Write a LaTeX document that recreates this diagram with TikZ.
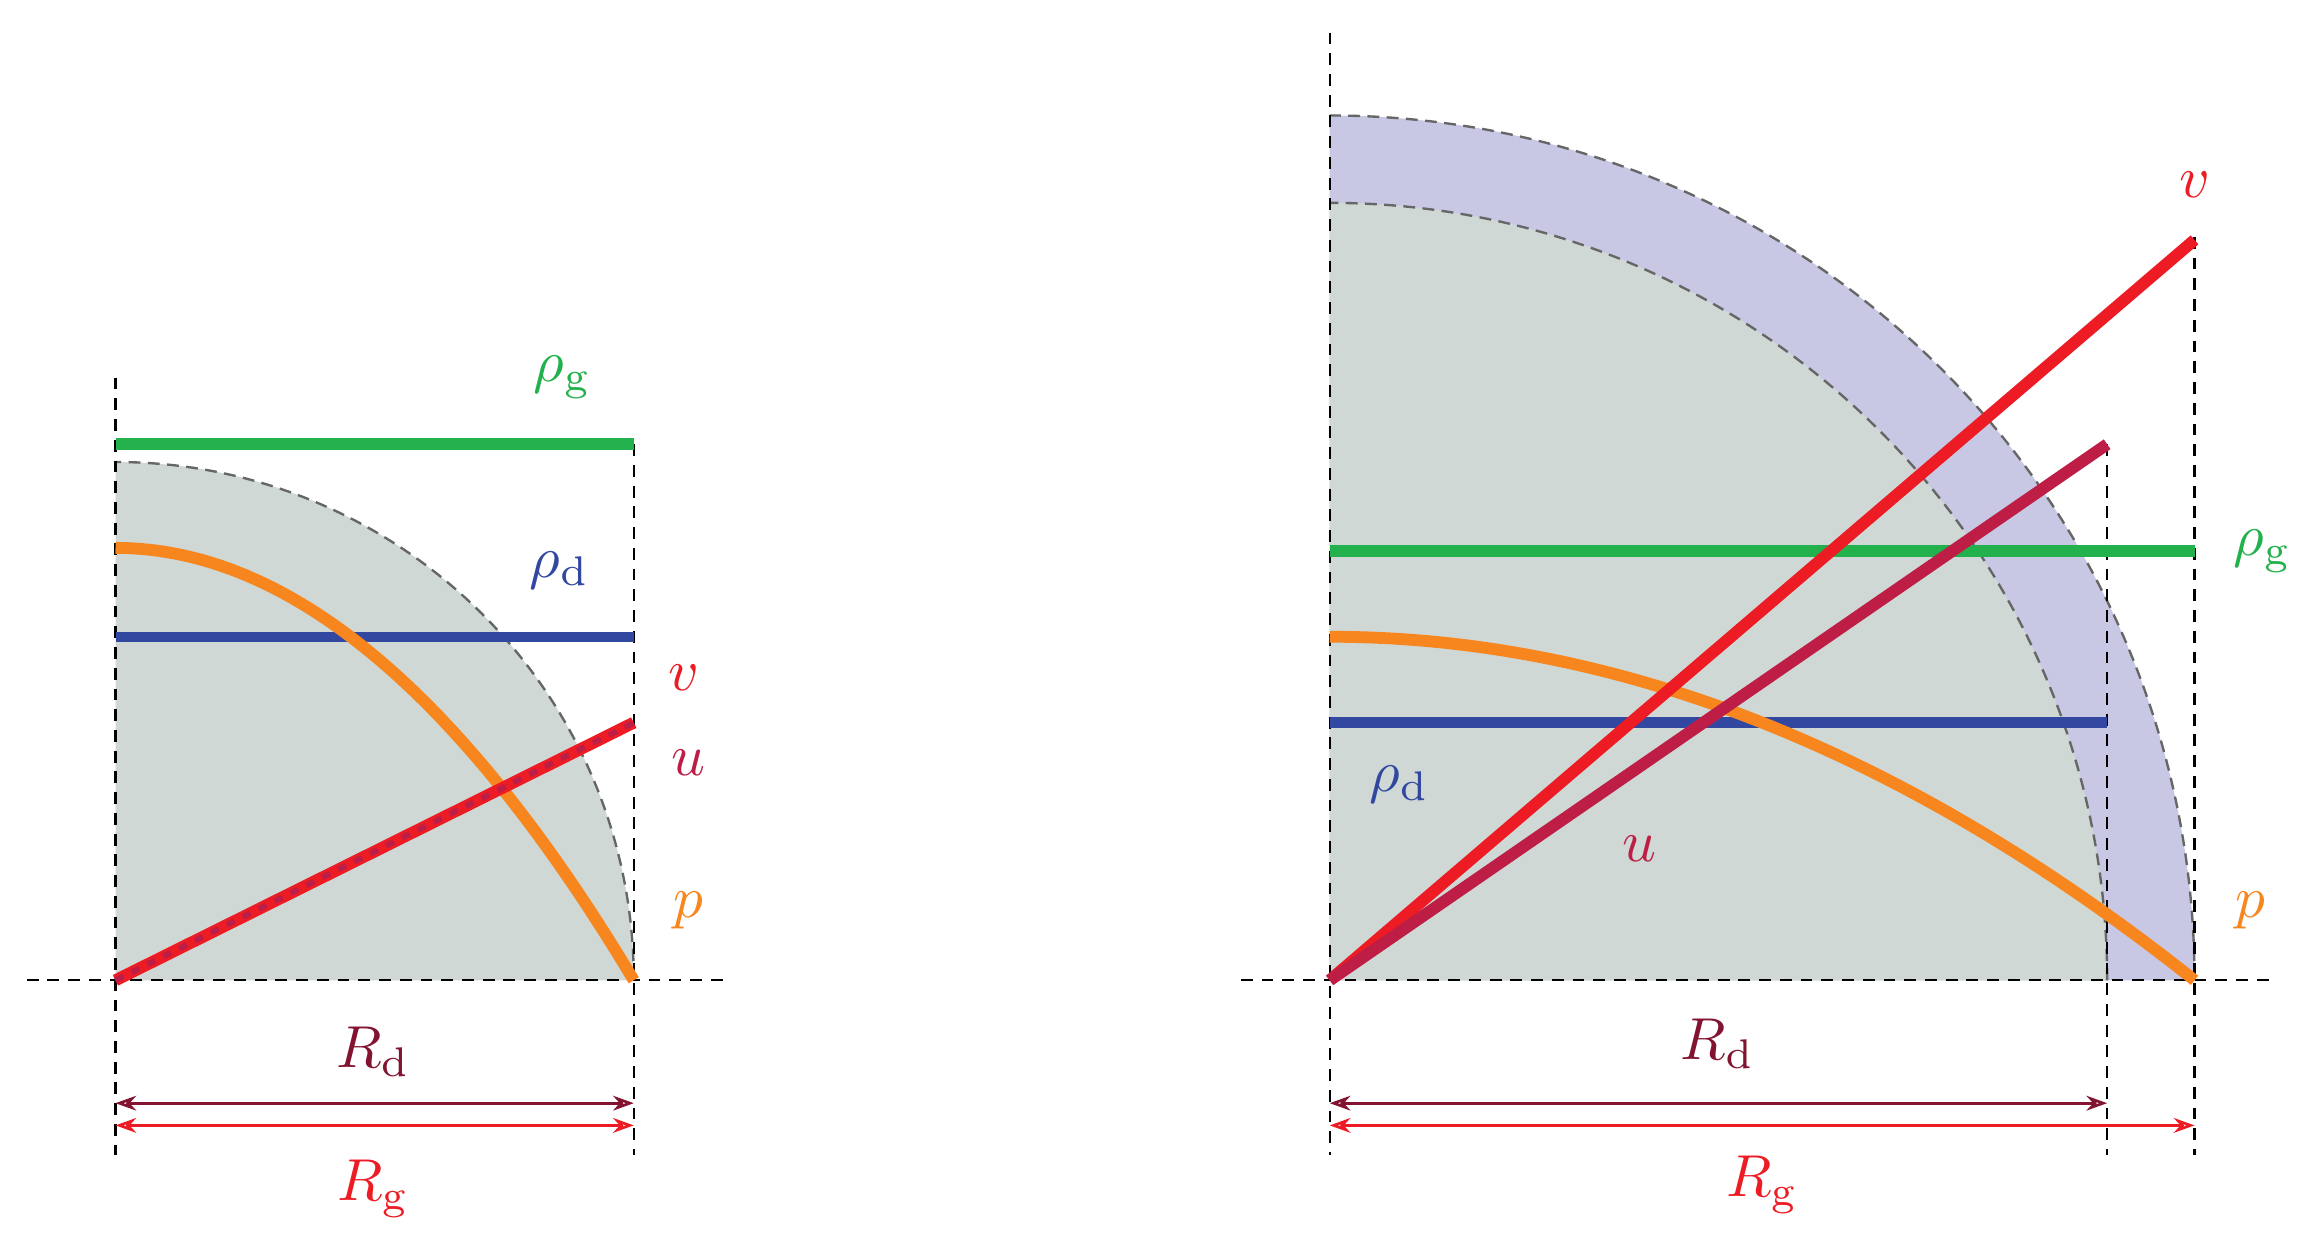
\documentclass[tikz,border=0pt]{standalone}
\usetikzlibrary{arrows.meta}
\definecolor{cgreen}{RGB}{34,177,76}
\definecolor{cblue}{RGB}{50,72,160}
\definecolor{corange}{RGB}{247,134,30}
\definecolor{cred}{RGB}{237,28,36}
\definecolor{cdred}{RGB}{190,30,70}
\definecolor{cdim}{RGB}{130,20,50}
\definecolor{cfill}{RGB}{207,216,213}
\definecolor{clav}{RGB}{200,200,228}
\tikzset{
 guide/.style={black,line width=1.6pt,dash pattern=on 8pt off 6pt},
 arcline/.style={gray!80!black,line width=1.6pt,dash pattern=on 8pt off 5pt},
 thick line/.style={line width=8pt},
 lbl/.style={transform shape,scale=4},
 dimarrow/.style={line width=1.8pt,{Stealth[length=14pt,width=10pt,open]}-{Stealth[length=14pt,width=10pt,open]}},
}
\begin{document}
\begin{tikzpicture}[x=1pt,y=-1pt]
\useasboundingbox (0,0) rectangle (1560,845);
% ---------- left ----------
\coordinate (O1) at (78,662);
\fill[cfill] (O1) -- (428,662) arc[start angle=0,end angle=-90,radius=350] -- cycle;
\draw[arcline] (428,662) arc[start angle=0,end angle=-90,radius=350];
\draw[guide] (18,662) -- (488,662);
\draw[guide] (78,255) -- (78,780);
\draw[guide] (428,300) -- (428,780);
\draw[cgreen,thick line] (78,300) -- (428,300);
\draw[cblue,line width=7pt] (78,430) -- (428,430);
\draw[corange,thick line] plot[domain=0:350,samples=60] ({78+\x},{370+292*(\x/350)^2});
\coordinate (E1) at (428,488);
\draw[cred,thick line] (O1) -- (E1);
\draw[cdred,line width=4pt,dash pattern=on 6pt off 6pt] (O1) -- (E1);
\node[lbl,text=cgreen] (rg1) at (380,255) {$\rho_{\mathrm g}$};
\node[lbl,text=cblue] (rd1) at (378,385) {$\rho_{\mathrm d}$};
\node[lbl,text=cred] (v1) at (462,458) {$v$};
\node[lbl,text=cdred] (u1) at (465,515) {$u$};
\node[lbl,text=corange] (p1) at (465,615) {$p$};
\coordinate (a1) at (78,745); \coordinate (b1) at (428,745);
\coordinate (c1) at (78,760); \coordinate (d1) at (428,760);
\draw[dimarrow,cdim] (a1) -- (b1);
\draw[dimarrow,cred] (c1) -- (d1);
\node[lbl,text=cdim] (Rd1) at (252,710) {$R_{\mathrm d}$};
\node[lbl,text=cred] (Rg1) at (252,803) {$R_{\mathrm g}$};
% ---------- right ----------
\coordinate (O2) at (898,662);
\fill[clav] (O2) -- (1482,662) arc[start angle=0,end angle=-90,radius=584] -- cycle;
\fill[cfill] (O2) -- (1423,662) arc[start angle=0,end angle=-90,radius=525] -- cycle;
\draw[arcline] (1482,662) arc[start angle=0,end angle=-90,radius=584];
\draw[arcline] (1423,662) arc[start angle=0,end angle=-90,radius=525];
\draw[guide] (838,662) -- (1535,662);
\draw[guide] (898,22) -- (898,780);
\draw[guide] (1423,300) -- (1423,780);
\draw[guide] (1482,160) -- (1482,780);
\draw[cgreen,thick line] (898,372) -- (1482,372);
\draw[cblue,line width=7pt] (898,488) -- (1423,488);
\draw[corange,thick line] plot[domain=0:584,samples=80] ({898+\x},{430+232*(\x/584)^2});
\coordinate (E2) at (1482,162);
\coordinate (F2) at (1423,300);
\draw[cred,thick line] (O2) -- (E2);
\draw[cdred,thick line] (O2) -- (F2);
\node[lbl,text=cgreen] (rg2) at (1528,372) {$\rho_{\mathrm g}$};
\node[lbl,text=cblue] (rd2) at (945,530) {$\rho_{\mathrm d}$};
\node[lbl,text=cred] (v2) at (1482,125) {$v$};
\node[lbl,text=cdred] (u2) at (1107,573) {$u$};
\node[lbl,text=corange] (p2) at (1520,615) {$p$};
\coordinate (a2) at (898,745); \coordinate (b2) at (1423,745);
\coordinate (c2) at (898,760); \coordinate (d2) at (1482,760);
\draw[dimarrow,cdim] (a2) -- (b2);
\draw[dimarrow,cred] (c2) -- (d2);
\node[lbl,text=cdim] (Rd2) at (1160,705) {$R_{\mathrm d}$};
\node[lbl,text=cred] (Rg2) at (1190,800) {$R_{\mathrm g}$};
\end{tikzpicture}
\end{document}
